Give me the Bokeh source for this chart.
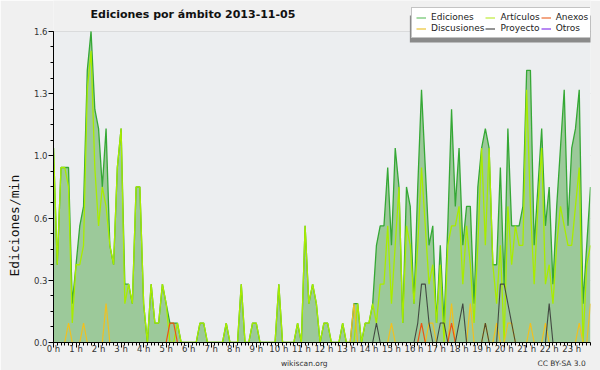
import numpy as np
from bokeh.plotting import figure
from bokeh.models import (ColumnDataSource, FixedTicker, Range1d, Legend, LegendItem,
                          Label, Title, LinearAxis, BoxAnnotation, CustomJSTickFormatter)
from bokeh.embed import file_html
from bokeh.resources import INLINE

# ---------------- data (10-minute slots, edits per minute) ----------------
title_text = "Ediciones por ámbito  2013-11-05"
y_label = "Ediciones/min"
credits = ["wikiscan.org", "CC BY-SA 3.0"]
credit_pos = [11.13, 22.55]          # hour positions of the two credit texts
hours = list(range(24))
hour_labels = [f"{h} h" for h in hours]
y_tick_values = [0.0, 0.32, 0.64, 0.96, 1.28, 1.6]
series_names = ["Ediciones", "Artículos", "Anexos", "Discusiones", "Proyecto", "Otros"]

ediciones = [
    1.0, 0.4, 0.9, 0.9, 0.9, 0.2, 0.4, 0.6, 0.7, 1.4, 1.6, 1.2,
    1.1, 0.8, 1.1, 0.5, 0.4, 0.9, 1.1, 0.3, 0.3, 0.2, 0.8, 0.8,
    0.2, 0.0, 0.3, 0.1, 0.1, 0.3, 0.2, 0.1, 0.1, 0.1, 0.0, 0.0,
    0.0, 0.0, 0.0, 0.1, 0.1, 0.0, 0.0, 0.0, 0.0, 0.0, 0.1, 0.0,
    0.0, 0.0, 0.3, 0.0, 0.0, 0.1, 0.1, 0.0, 0.0, 0.0, 0.0, 0.0,
    0.3, 0.0, 0.0, 0.0, 0.0, 0.1, 0.0, 0.6, 0.2, 0.3, 0.2, 0.0,
    0.1, 0.1, 0.0, 0.0, 0.0, 0.1, 0.0, 0.0, 0.2, 0.2, 0.0, 0.1,
    0.1, 0.2, 0.5, 0.6, 0.6, 0.9, 0.5, 1.0, 0.8, 0.1, 0.8, 0.7,
    0.2, 0.8, 1.3, 0.9, 0.5, 0.6, 0.1, 0.5, 0.1, 0.6, 1.2, 0.7,
    1.0, 0.5, 0.7, 0.7, 0.2, 0.8, 1.0, 1.1, 1.0, 0.4, 0.4, 0.9,
    0.3, 1.1, 0.6, 0.6, 0.6, 0.7, 1.4, 1.4, 0.5, 0.8, 1.1, 0.6,
    0.8, 0.3, 0.7, 1.0, 1.3, 0.6, 1.0, 1.1, 1.3, 0.2, 0.5, 0.8,
]
articulos = [
    1.0, 0.4, 0.9, 0.9, 0.8, 0.1, 0.4, 0.4, 0.5, 1.3, 1.5, 0.9,
    0.6, 0.8, 0.7, 0.5, 0.4, 0.9, 1.1, 0.2, 0.3, 0.2, 0.8, 0.8,
    0.2, 0.0, 0.3, 0.1, 0.1, 0.3, 0.2, 0.0, 0.0, 0.1, 0.0, 0.0,
    0.0, 0.0, 0.0, 0.1, 0.1, 0.0, 0.0, 0.0, 0.0, 0.0, 0.1, 0.0,
    0.0, 0.0, 0.3, 0.0, 0.0, 0.1, 0.1, 0.0, 0.0, 0.0, 0.0, 0.0,
    0.3, 0.0, 0.0, 0.0, 0.0, 0.1, 0.0, 0.6, 0.2, 0.3, 0.2, 0.0,
    0.1, 0.1, 0.0, 0.0, 0.0, 0.1, 0.0, 0.0, 0.0, 0.2, 0.0, 0.1,
    0.1, 0.2, 0.1, 0.3, 0.3, 0.6, 0.2, 0.5, 0.8, 0.1, 0.6, 0.5,
    0.2, 0.5, 0.9, 0.6, 0.3, 0.4, 0.1, 0.4, 0.0, 0.5, 0.6, 0.6,
    0.7, 0.3, 0.6, 0.4, 0.1, 0.5, 1.0, 0.5, 1.0, 0.4, 0.2, 0.5,
    0.0, 0.7, 0.4, 0.6, 0.5, 0.5, 1.3, 0.7, 0.3, 0.7, 1.0, 0.3,
    0.4, 0.2, 0.5, 0.7, 0.6, 0.5, 0.5, 0.7, 0.9, 0.0, 0.4, 0.5,
]
anexos = [
    0, 0, 0, 0, 0, 0, 0, 0, 0, 0, 0, 0,
    0, 0, 0, 0, 0, 0, 0, 0, 0, 0, 0, 0,
    0, 0, 0, 0, 0, 0, 0, 0.1, 0.1, 0, 0, 0,
    0, 0, 0, 0, 0, 0, 0, 0, 0, 0, 0, 0,
    0, 0, 0, 0, 0, 0, 0, 0, 0, 0, 0, 0,
    0, 0, 0, 0, 0, 0, 0, 0, 0, 0, 0, 0,
    0, 0, 0, 0, 0, 0, 0, 0, 0, 0, 0, 0,
    0, 0, 0, 0, 0, 0, 0, 0, 0, 0, 0, 0,
    0, 0, 0.1, 0, 0, 0, 0, 0, 0, 0, 0.1, 0,
    0, 0, 0, 0, 0, 0, 0, 0, 0, 0, 0, 0,
    0, 0, 0, 0, 0, 0, 0, 0, 0, 0, 0, 0,
    0, 0, 0, 0, 0, 0, 0, 0, 0, 0, 0, 0,
]
discusiones = [
    0, 0, 0, 0, 0.1, 0, 0, 0, 0.1, 0, 0, 0,
    0, 0, 0.2, 0, 0, 0, 0, 0, 0, 0, 0, 0,
    0, 0, 0, 0, 0, 0, 0, 0, 0, 0, 0, 0,
    0, 0, 0, 0, 0, 0, 0, 0, 0, 0, 0, 0,
    0, 0, 0, 0, 0, 0, 0, 0, 0, 0, 0, 0,
    0, 0, 0, 0, 0, 0, 0, 0, 0, 0, 0, 0,
    0, 0, 0, 0, 0, 0, 0, 0, 0.2, 0, 0, 0,
    0, 0, 0, 0, 0, 0, 0.1, 0, 0, 0, 0, 0,
    0, 0, 0, 0, 0.1, 0.1, 0, 0, 0, 0, 0.2, 0,
    0, 0, 0, 0.2, 0, 0, 0, 0.1, 0, 0, 0.1, 0,
    0, 0.1, 0.1, 0, 0, 0, 0, 0.1, 0, 0, 0, 0.1,
    0, 0, 0, 0, 0, 0, 0, 0, 0.1, 0, 0, 0.2,
]
proyecto = [
    0, 0, 0, 0, 0, 0, 0, 0, 0, 0, 0, 0,
    0, 0, 0, 0, 0, 0, 0, 0, 0, 0, 0, 0,
    0, 0, 0, 0, 0, 0, 0, 0, 0, 0, 0, 0,
    0, 0, 0, 0, 0, 0, 0, 0, 0, 0, 0, 0,
    0, 0, 0, 0, 0, 0, 0, 0, 0, 0, 0, 0,
    0, 0, 0, 0, 0, 0, 0, 0, 0, 0, 0, 0,
    0, 0, 0, 0, 0, 0, 0, 0, 0, 0, 0, 0,
    0, 0, 0.1, 0, 0, 0, 0, 0, 0, 0, 0, 0,
    0, 0.1, 0.3, 0.3, 0.1, 0, 0, 0.1, 0.1, 0, 0, 0,
    0.1, 0.2, 0, 0, 0, 0, 0, 0.1, 0, 0, 0, 0.3,
    0.3, 0.2, 0.1, 0, 0, 0, 0, 0, 0, 0, 0, 0,
    0.2, 0, 0, 0, 0, 0, 0, 0, 0, 0, 0, 0,
]

slots = np.arange(len(ediciones)) / 6.0  # hour of day for each 10-minute slot
y_max = y_tick_values[-1]
y_top = 1.759  # room above the top value for title and legend

src = ColumnDataSource(dict(t=slots, ediciones=ediciones, articulos=articulos,
                            anexos=anexos, discusiones=discusiones, proyecto=proyecto))

# ---------------- figure geometry ----------------
W, H = 600, 370
LEFT, RIGHT, BOTTOM = 46, 10, 27
FRAME_W, FRAME_H = W - LEFT - RIGHT, H - BOTTOM
FONT = "DejaVu Sans"
OUTER = "#f0f0f0"
INNER = "#eceef0"
p = figure(width=W, height=H, output_backend="svg", toolbar_location=None,
           x_range=Range1d(0, slots[-1]), y_range=Range1d(0, y_top),
           min_border_left=LEFT, min_border_right=RIGHT, min_border_top=0,
           min_border_bottom=BOTTOM,
           background_fill_color=OUTER, border_fill_color=OUTER)
p.outline_line_color = None

# plot-area background (below the top value)
p.add_layout(BoxAnnotation(bottom=0, top=y_max, fill_color=INNER, fill_alpha=1,
                           line_color=None, level="underlay"))

# grid
p.xgrid.visible = False
p.ygrid.grid_line_color = "#c8c8c8"
p.ygrid.grid_line_width = 1

# axes
p.xaxis.ticker = FixedTicker(ticks=hours, minor_ticks=list(slots))
p.xaxis.major_label_overrides = {h: lab for h, lab in zip(hours, hour_labels)}
p.yaxis.ticker = FixedTicker(ticks=y_tick_values,
                             minor_ticks=[k * 0.08 for k in range(21)])
p.yaxis.formatter = CustomJSTickFormatter(code="return tick.toFixed(1);")
p.yaxis.bounds = (0, y_max)
for ax in (p.xaxis[0], p.yaxis[0]):
    ax.axis_line_color = "#000000"
    ax.major_tick_line_color = "#000000"
    ax.minor_tick_line_color = "#000000"
    ax.major_tick_in = 0
    ax.minor_tick_in = 0
    ax.major_tick_out = 5
    ax.minor_tick_out = 3
    ax.major_label_text_font = FONT
    ax.major_label_text_font_size = "8.5px"
    ax.major_label_text_color = "#333333"
    ax.major_label_text_line_height = 1.0
    ax.major_label_standoff = 1
p.xaxis.major_label_standoff = -4

# credits row below the hour labels
credit_axis = LinearAxis(ticker=FixedTicker(ticks=credit_pos),
                         major_label_overrides=dict(zip(credit_pos, credits)))
credit_axis.axis_line_color = None
credit_axis.major_tick_line_color = None
credit_axis.minor_tick_line_color = None
credit_axis.major_tick_out = 0
credit_axis.major_tick_in = 0
credit_axis.minor_tick_out = 0
credit_axis.minor_tick_in = 0
credit_axis.major_label_standoff = 2
credit_axis.major_label_text_font = FONT
credit_axis.major_label_text_font_size = "7.5px"
credit_axis.major_label_text_line_height = 1.0
credit_axis.major_label_text_color = "#333333"
p.add_layout(credit_axis, "below")

# y axis title (vertical, placed like the original)
ytitle = Title(text=y_label, align="left", offset=66, standoff=13, vertical_align="top",
               text_font="DejaVu Sans Mono", text_font_size="13px",
               text_font_style="normal", text_color="#111111")
p.add_layout(ytitle, "left")

# chart title inside the top band
p.add_layout(Label(x=37, y=y_top, x_units="screen", y_units="data", y_offset=-7,
                   text=title_text, text_baseline="top",
                   text_font=FONT, text_font_size="11px", text_font_style="bold",
                   text_color="#111111"))

# ---------------- glyphs ----------------
p.varea(x="t", y1=0, y2="ediciones", source=src, fill_color="#9cc99a")
p.line("t", "ediciones", source=src, line_color="#35a835", line_width=1.3)
p.line("t", "articulos", source=src, line_color="#a8ec00", line_width=1.3)
p.line("t", "discusiones", source=src, line_color="#f0c020", line_width=1.2)
p.line("t", "anexos", source=src, line_color="#ee5511", line_width=1.2)
p.line("t", "proyecto", source=src, line_color="#333333", line_width=1.1, line_alpha=0.85)

# legend box (pixel geometry) and its drop shadow
LEG_X, LEG_BOTTOM, SHADOW = 358, 304, 3
px_per_hour = FRAME_W / slots[-1]
px_per_unit = FRAME_H / y_top
p.add_layout(BoxAnnotation(left=(LEG_X + SHADOW) / px_per_hour,
                           right=slots[-1] * 1.05,
                           bottom=(LEG_BOTTOM - SHADOW) / px_per_unit,
                           top=(LEG_BOTTOM - SHADOW + 27) / px_per_unit,
                           fill_color="#8a8a8a", fill_alpha=1, line_color=None))

legend_colors = ["#80cc80", "#c8ee55", "#ee8050", "#eecc50", "#666666", "#9955ee"]
key_src = ColumnDataSource(dict(x=[np.nan], y=[np.nan]))
items = []
for name, col in zip(series_names, legend_colors):
    r = p.line("x", "y", source=key_src, line_color=col, line_width=1.4)
    items.append(LegendItem(label=name, renderers=[r]))
legend = Legend(items=items, orientation="horizontal", ncols=3,
                location=(LEG_X, LEG_BOTTOM))
legend.label_text_font = FONT
legend.label_text_font_size = "9px"
legend.label_text_color = "#222222"
legend.label_height = 9
legend.label_standoff = 5
legend.glyph_height = 9
legend.glyph_width = 10
legend.spacing = 1
legend.padding = 4
legend.margin = 0
legend.border_line_color = "#888888"
legend.background_fill_color = "#ffffff"
legend.background_fill_alpha = 1
p.add_layout(legend, "center")

open("out.html", "w").write(file_html(p, INLINE))
